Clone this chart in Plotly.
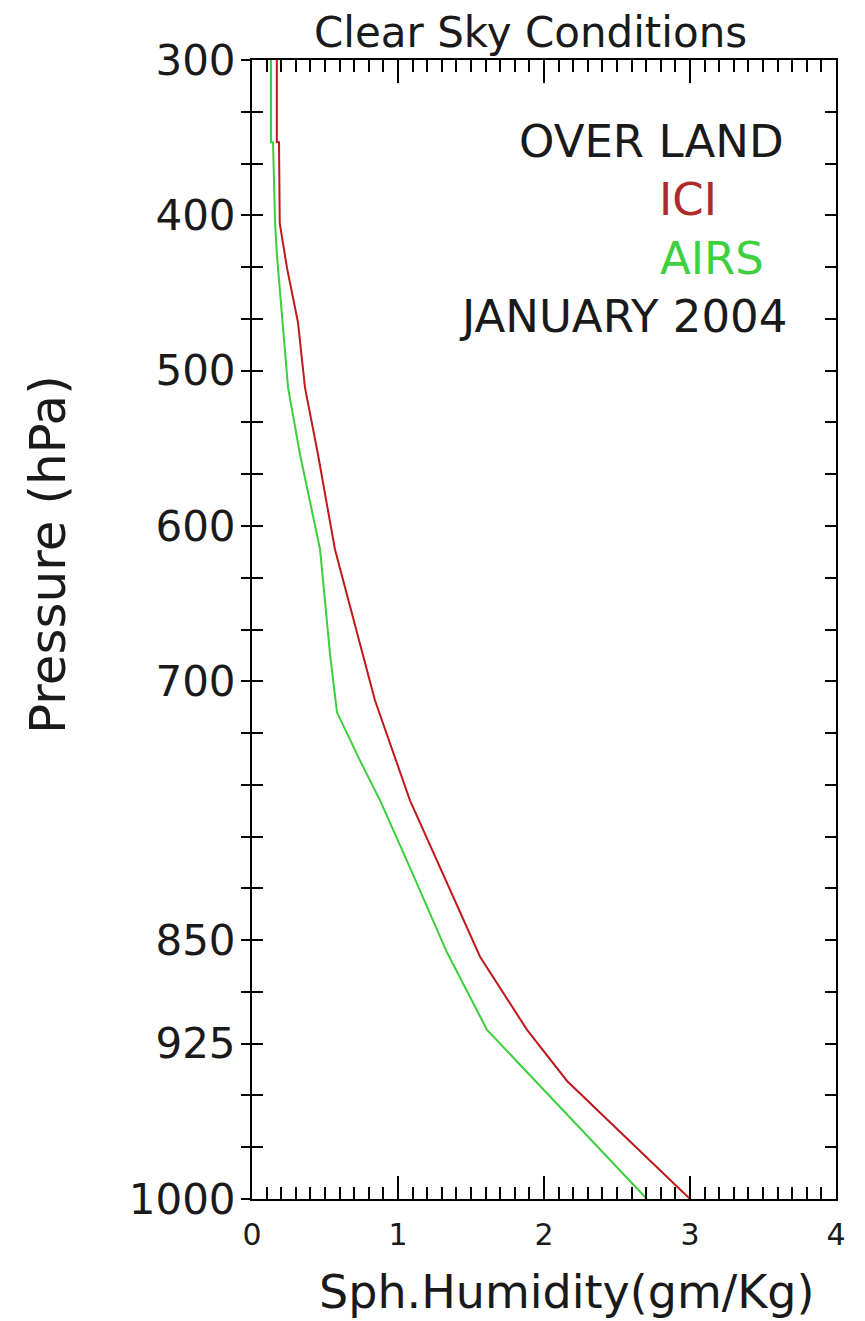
import numpy as np
import plotly.graph_objects as go

# Pressure-axis labels and their equally spaced slot positions on the axis
P_LABELS = [300, 400, 500, 600, 700, 850, 925, 1000]
P_SLOTS = [0, 3, 6, 9, 12, 17, 19, 22]
N_SLOTS = 22

X_TICKS = [0, 1, 2, 3, 4]

# ICI profile (pressure hPa, specific humidity g/kg)
ICI_P = [300, 353, 353, 405, 434, 469, 511, 554, 615, 682, 711, 769, 808, 862, 915, 943, 1000]
ICI_Q = [0.17, 0.17, 0.185, 0.19, 0.24, 0.315, 0.363, 0.452, 0.568, 0.76, 0.842, 1.082, 1.288, 1.562, 1.884, 2.158, 3.0]

# AIRS profile
AIRS_P = [300, 353, 353, 405, 426, 469, 511, 554, 615, 682, 718, 746, 769, 808, 859, 915, 1000]
AIRS_Q = [0.13, 0.13, 0.144, 0.158, 0.171, 0.212, 0.247, 0.329, 0.466, 0.534, 0.582, 0.74, 0.877, 1.082, 1.336, 1.61, 2.705]


def p_to_slot(p):
    return np.interp(p, P_LABELS, P_SLOTS)


FONT = "DejaVu Sans"
INK = "#1a1a1a"
RED = "#c0181c"
GREEN = "#3ccf3c"

fig = go.Figure()
fig.add_trace(go.Scatter(x=ICI_Q, y=p_to_slot(ICI_P), mode="lines",
                         line=dict(color=RED, width=2), name="ICI"))
fig.add_trace(go.Scatter(x=AIRS_Q, y=p_to_slot(AIRS_P), mode="lines",
                         line=dict(color=GREEN, width=2), name="AIRS"))
# empty trace so the overlaid label axis is drawn
fig.add_trace(go.Scatter(x=[], y=[], yaxis="y2", showlegend=False))

slot_vals = list(range(N_SLOTS + 1))
slot_text = [str(P_LABELS[P_SLOTS.index(s)]) if s in P_SLOTS else "" for s in slot_vals]

# page body has an 8px margin: figure is shifted accordingly
fig.update_layout(
    width=857, height=1313,
    margin=dict(l=244, r=29, t=52, b=122),
    paper_bgcolor="white", plot_bgcolor="white",
    showlegend=False,
    font=dict(family=FONT, color=INK),
    xaxis=dict(range=[0, 4], tickvals=X_TICKS, ticks="inside", ticklen=23,
               tickwidth=2, tickcolor="black", showline=True, linewidth=2,
               linecolor="black", mirror="ticks", showgrid=False, zeroline=False,
               minor=dict(dtick=0.1, ticks="inside", ticklen=12, tickwidth=2,
                          tickcolor="black", showgrid=False),
               tickfont=dict(size=30, family=FONT, color=INK),
               ticklabelstandoff=8),
    yaxis=dict(range=[N_SLOTS, 0], tickvals=slot_vals, ticks="inside", ticklen=11,
               tickwidth=2, tickcolor="black", showline=True, linewidth=2,
               linecolor="black", mirror="ticks", showgrid=False, zeroline=False,
               showticklabels=False),
    yaxis2=dict(range=[N_SLOTS, 0], overlaying="y", side="left",
                tickvals=slot_vals, ticktext=slot_text, ticks="outside", ticklen=10,
                tickwidth=2, tickcolor="black", showline=False, showgrid=False,
                zeroline=False, tickfont=dict(size=42, family=FONT, color=INK),
                ticklabelstandoff=-3),
)

def px_x(px):
    return (px - 252) / 584.0

def px_y(py):
    return (1199 - py) / 1139.0

annos = [
    ("Clear Sky Conditions", 530, 33, 42, INK, 0),
    ("Pressure (hPa)", 48, 555, 50, INK, -90),
    ("Sph.Humidity(gm/Kg)", 567, 1292, 46, INK, 0),
    ("OVER LAND", 651, 142, 45, INK, 0),
    ("ICI", 688, 200, 45, "#b02a2a", 0),
    ("AIRS", 712, 258, 45, "#3fd03f", 0),
    ("JANUARY 2004", 623, 317, 45, INK, 0),
]
for text, ax, ay, size, color, ang in annos:
    fig.add_annotation(text=text, x=px_x(ax), y=px_y(ay), xref="paper", yref="paper",
                       xanchor="center", yanchor="middle", showarrow=False,
                       textangle=ang, font=dict(size=size, family=FONT, color=color))

fig.write_html("out.html")
